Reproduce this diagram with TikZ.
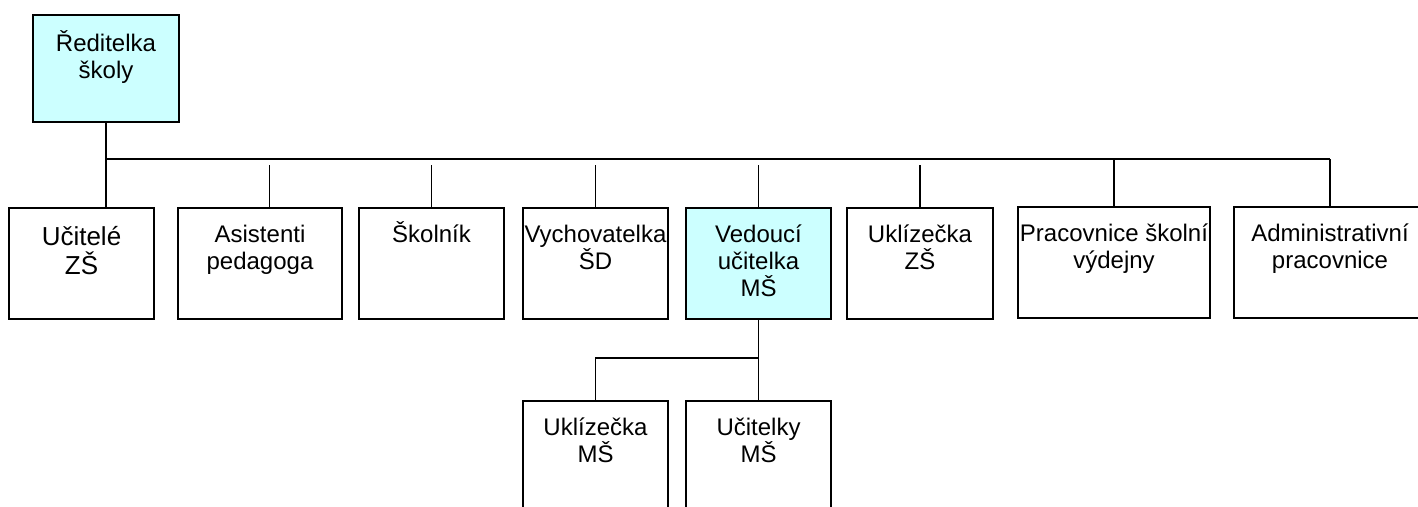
\documentclass[tikz,border=0pt]{standalone}
\usepackage{fontspec}
\setmainfont{Liberation Sans}
\definecolor{headfill}{HTML}{CCFFFF}

\begin{document}
\begin{tikzpicture}[x=1pt, y=-1pt, line width=1.8pt,
                    box/.style={draw, rectangle, anchor=north west, inner sep=0, outer sep=0,
                                minimum width=#1, minimum height=111pt},
                    box/.default=145pt,
                    head/.style={fill=headfill},
                    lab/.style={anchor=north, inner sep=0, align=center, yshift=-10pt,
                                font=\fontsize{24}{27}\selectfont},
                    txt/.style={label={[lab]north:{\rule{0pt}{24pt}#1}}}]
                \useasboundingbox (0,0) rectangle (1418,506);
                \clip (0,0) rectangle (1418,506);

                \node (dir) [box=146pt, minimum height=107pt, head,
                             label={[lab, yshift=-1.7pt]north:{\rule{0pt}{24pt}Ředitelka\\školy}}] at (33,15) {};

                \node (ucit) [box,
                              label={[lab, yshift=-3pt, font=\fontsize{26}{29}\selectfont]north:{\rule{0pt}{24pt}Učitelé\\ZŠ}}] at (9,208) {};
                \node (asist) [box=164pt, txt={Asistenti\\pedagoga}] at (178,208) {};
                \node (skol) [box, txt={Školník}] at (359,208) {};
                \node (vych) [box, txt={Vychovatelka\\ŠD}] at (523,208) {};
                \node (ved) [box, head, txt={Vedoucí\\učitelka\\MŠ}] at (686,208) {};
                \node (uklzs) [box=146pt, txt={Uklízečka\\ZŠ}] at (847,208) {};
                \node (prac) [box=192pt, txt={Pracovnice školní\\výdejny}] at (1018,207) {};
                \node (admin) [box=192pt, txt={Administrativní\\pracovnice}] at (1234,207) {};

                \node (uklms) [box, txt={Uklízečka\\MŠ}] at (523,401) {};
                \node (ucitms) [box, txt={Učitelky\\MŠ}] at (686,401) {};

                \coordinate (bus) at (106,159);
                \coordinate (fork) at (758.5,358);

                \draw (dir.south) -- (dir.south |- ucit.north);
                \draw (bus) -- (bus -| admin.north);
                \draw ([xshift=9.5pt]asist.north) -- ++(0,-43);
                \foreach \n in {skol, vych, ved, uklzs}
                    \draw (\n.north) -- ++(0,-43);
                \draw (prac.north) -- (prac.north |- bus);
                \draw (admin.north) -- (admin.north |- bus);

                \draw (ved.south) -- (ucitms.north);
                \draw (uklms.north) |- (fork);
            \end{tikzpicture}
\end{document}
